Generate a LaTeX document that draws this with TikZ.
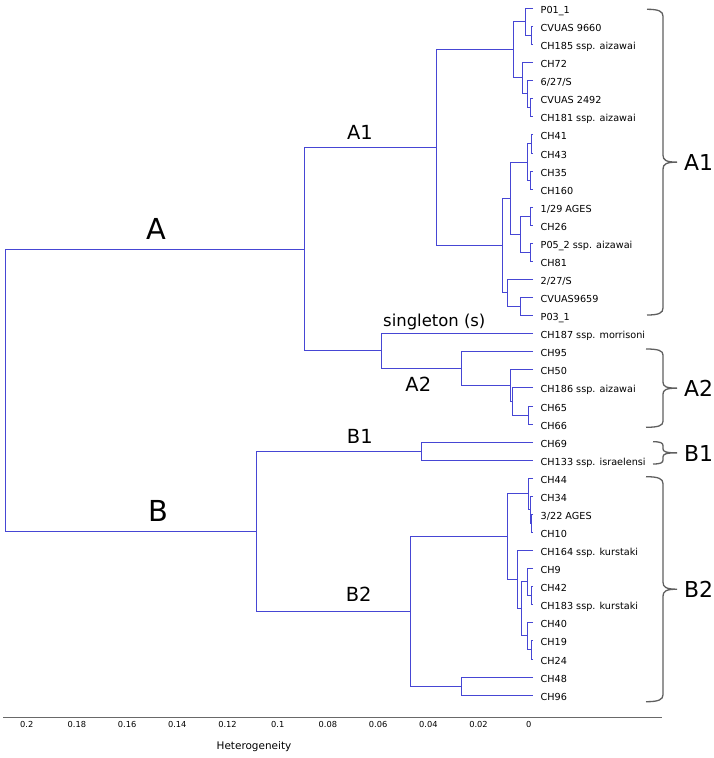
\documentclass[tikz,border=0pt]{standalone}
\usepackage{fontspec}
\setmainfont{DejaVu Sans}
\usetikzlibrary{calc}
\definecolor{treeblue}{RGB}{70,70,212}
\definecolor{bracegray}{RGB}{95,95,95}
\definecolor{axisgray}{RGB}{105,105,105}
\tikzset{
  br/.style={draw=treeblue, line width=1.4bp},
  brc/.style={draw=bracegray, line width=1.3bp},
  leaflab/.style={anchor=base west, inner sep=0pt, font=\fontsize{9.7}{11}\selectfont},
  biglab/.style={anchor=base, inner sep=0pt, font=\fontsize{29}{32}\selectfont},
  sublab/.style={anchor=base, inner sep=0pt, font=\fontsize{19.5}{22}\selectfont},
  rlab/.style={anchor=base west, inner sep=0pt, font=\fontsize{22}{24}\selectfont},
  ticklab/.style={anchor=center, inner sep=0pt, font=\fontsize{8.3}{9}\selectfont},
  axlab/.style={anchor=center, inner sep=0pt, font=\fontsize{10.5}{12}\selectfont},
}
% join two children at x = #2 (pixel-snapped), vertical position = midpoint
\newcommand{\jn}[4]{%
  \path let \p1=($(#3)!0.5!(#4)$) in coordinate (#1) at ({(floor(#2)+0.5)*1.00375pt},{(floor(\y1*0.99626)+0.5)*1.00375});
  \draw[br] (#3) -| (#1) |- (#4);
}
\newcommand{\rbr}[4]{%
  \pgfmathsetmacro\bm{(#1+#2)/2}
  \draw[brc] (#3,#1) .. controls ({#3+0.75*(663-#3)},#1) and (663,{#1+0.3*#4}) .. (663,{#1+#4})
    -- (663,{\bm-#4}) .. controls (663,{\bm-0.3*#4}) and (666,\bm) .. (677,\bm)
    .. controls (666,\bm) and (663,{\bm+0.3*#4}) .. (663,{\bm+#4})
    -- (663,{#2-#4}) .. controls (663,{#2-0.3*#4}) and ({#3+0.75*(663-#3)},#2) .. (#3,#2);
}
\begin{document}
\begin{tikzpicture}[x=1bp,y=-1bp]
\useasboundingbox (0,0) rectangle (714,758);
% leaves
\foreach \t [count=\i from 0] in {P01\_1, CVUAS 9660, CH185 ssp. aizawai, CH72, 6/27/S, CVUAS 2492, CH181 ssp. aizawai, CH41, CH43, CH35, CH160, 1/29 AGES, CH26, P05\_2 ssp. aizawai, CH81, 2/27/S, CVUAS9659, P03\_1, CH187 ssp. morrisoni, CH95, CH50, CH186 ssp. aizawai, CH65, CH66, CH69, CH133 ssp. israelensi, CH44, CH34, 3/22 AGES, CH10, CH164 ssp. kurstaki, CH9, CH42, CH183 ssp. kurstaki, CH40, CH19, CH24, CH48, CH96} {
  \pgfmathsetmacro\yy{floor(8.5+18.07*\i)+0.5}
  \coordinate (L\i) at (533,\yy);
  \node[leaflab] (T\i) at (540.5,{\yy+5}) {\t};
}
% cluster A1
\jn{n12}{531}{L1}{L2}
\jn{nT}{525}{L0}{n12}
\jn{n56}{530}{L5}{L6}
\jn{n4}{527}{L4}{n56}
\jn{n3}{522}{L3}{n4}
\jn{A1a}{513}{nT}{n3}
\jn{n78}{531}{L7}{L8}
\jn{n910}{530}{L9}{L10}
\jn{D1}{527}{n78}{n910}
\jn{n1112}{530}{L11}{L12}
\jn{n1314}{530}{L13}{L14}
\jn{D2}{520}{n1112}{n1314}
\jn{C1}{510}{D1}{D2}
\jn{n1617}{520}{L16}{L17}
\jn{C2}{507}{L15}{n1617}
\jn{A1b}{502.7}{C1}{C2}
\jn{nA1}{436.7}{A1a}{A1b}
% cluster A2 and singleton
\jn{nG}{528.3}{L22}{L23}
\jn{nF}{512.7}{L21}{nG}
\jn{nE}{510}{L20}{nF}
\jn{nA2}{461}{L19}{nE}
\jn{nS}{381.7}{L18}{nA2}
\jn{nA}{304}{nA1}{nS}
% cluster B
\jn{nB1}{421.8}{L24}{L25}
\jn{nY}{531}{L28}{L29}
\jn{nX}{530}{L27}{nY}
\jn{B2at}{528.6}{L26}{nX}
\jn{H1a}{531.4}{L32}{L33}
\jn{H1}{527.9}{L31}{H1a}
\jn{H2a}{531.4}{L35}{L36}
\jn{H2}{527.9}{L34}{H2a}
\jn{nH}{521.4}{H1}{H2}
\jn{B2ab}{517.9}{L30}{nH}
\jn{B2a}{507.9}{B2at}{B2ab}
\jn{B2b}{461.8}{L37}{L38}
\jn{nB2}{410}{B2a}{B2b}
\jn{nB}{256.4}{nB1}{nB2}
\jn{root}{5}{nA}{nB}
% tree labels
\node[biglab] (labA) at (156,239.3) {A};
\node[biglab] (labB) at (158,521.7) {B};
\node[sublab] (labA1) at (360,139.3) {A1};
\node[sublab] (labA2) at (418.3,391.7) {A2};
\node[sublab] (labB1) at (359.8,443.3) {B1};
\node[sublab] (labB2) at (358.6,601.7) {B2};
\node[anchor=base west, inner sep=0pt, font=\fontsize{16.5}{18}\selectfont] (labS) at (383,326.7) {singleton (s)};
% braces
\rbr{9.3}{315}{647}{7}
\rbr{349}{427.3}{646}{6}
\rbr{441.7}{464}{653}{4}
\rbr{476.7}{701.7}{646}{7}
\node[rlab] (rA1) at (684,{(9.3+315)/2+8.3}) {A1};
\node[rlab] (rA2) at (684,{(349+427.3)/2+8.3}) {A2};
\node[rlab] (rB1) at (684,{(441.7+464)/2+8.3}) {B1};
\node[rlab] (rB2) at (684,{(476.7+701.7)/2+8.3}) {B2};
% axis
\draw[axisgray, line width=1.2bp] (3,717.5) coordinate (ax0) -- (662,717.5) coordinate (ax1);
\foreach \h/\t [count=\k] in {0.2/0.2, 0.18/0.18, 0.16/0.16, 0.14/0.14, 0.12/0.12, 0.1/0.1, 0.08/0.08, 0.06/0.06, 0.04/0.04, 0.02/0.02, 0/0} {
  \node[ticklab] (tk\k) at ({528.7-2510*\h},724.5) {\t};
}
\node[axlab] (axl) at (254,746.7) {Heterogeneity};
\end{tikzpicture}
\end{document}
